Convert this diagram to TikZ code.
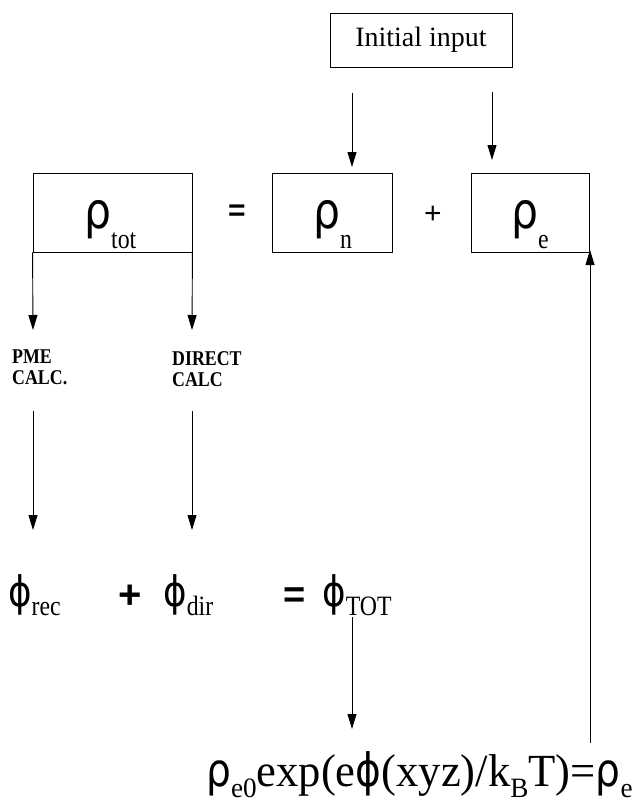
\documentclass[tikz,border=0pt]{standalone}
\usepackage{fontspec}
\setmainfont{Liberation Serif}
\newfontfamily\gr{DejaVu Sans}[FakeStretch=0.85]
\newfontfamily\nar{Liberation Serif}[FakeStretch=0.85]
\newfontfamily\frm{Liberation Serif}[FakeStretch=0.97]
\newfontfamily\sy{Liberation Sans}
\usetikzlibrary{arrows.meta}
\newcommand\fs[1]{\fontsize{#1}{#1}\selectfont}
\newcommand\lowsub[2]{\raisebox{-#1}{\nar\fs{28}#2}}
\begin{document}
\begin{tikzpicture}[x=1pt,y=-1pt,
  box/.style={draw,line width=0.9pt,inner sep=0pt},
  arr/.style={line width=0.9pt,-{Triangle[length=15pt,width=9pt]}},
  lbl/.style={inner sep=0pt,font=\nar\bfseries\fontsize{21}{21}\selectfont,align=left,anchor=base west},
  sym/.style={inner sep=0pt,anchor=base west},
  op/.style={inner sep=0pt,font=\sy\bfseries\fs{30}}]
\useasboundingbox (0,0) rectangle (640,806);
% top
\node[box,minimum width=182pt,minimum height=54pt,font=\fs{28}] (init) at (421,40) {Initial input};
\node[box,minimum width=159pt,minimum height=79pt] (rtot) at (112.5,212.5) {};
\node[box,minimum width=120pt,minimum height=79pt] (rn) at (332,212.5) {};
\node[box,minimum width=118pt,minimum height=79pt] (re) at (530,212.5) {};
\node[sym] (trtot) at (84,228) {{\gr\fs{50}ρ}\lowsub{20pt}{tot}};
\node[sym] (trn) at (313,228) {{\gr\fs{50}ρ}\lowsub{20pt}{n}};
\node[sym] (tre) at (511,228) {{\gr\fs{50}ρ}\lowsub{20pt}{e}};
\node[op] (eq1) at (237,213) {=};
\node[op,font=\sy\fs{30}] (pl1) at (433,215) {+};
% arrows from init
\coordinate (a1s) at (352,93);
\coordinate (a1e) at (352,167);
\coordinate (a2s) at (492,92);
\coordinate (a2e) at (492,160);
\draw[arr] (a1s) -- (a1e);
\draw[arr] (a2s) -- (a2e);
% branch arrows
\coordinate (b1) at (33,330);
\coordinate (b2) at (192,330);
\draw[arr] (rtot.south west) -- (b1);
\draw[arr] (rtot.south east) -- (b2);
\node[lbl] (pme) at (12,384) {PME\\CALC.};
\node[lbl] (dir) at (172,386) {DIRECT\\CALC};
\coordinate (c1s) at (33,411);
\coordinate (c1e) at (33,530);
\coordinate (c2s) at (192,411);
\coordinate (c2e) at (192,530);
\draw[arr] (c1s) -- (c1e);
\draw[arr] (c2s) -- (c2e);
% phi row
\node[sym] (prec) at (8,606) {{\gr\fs{42}ϕ}\lowsub{9pt}{rec}};
\node[op,font=\sy\bfseries\fs{40}] (pl2) at (130,597) {+};
\node[sym] (pdir) at (163,606) {{\gr\fs{42}ϕ}\lowsub{9pt}{dir}};
\node[op,font=\sy\bfseries\fs{38}] (eq2) at (295,598) {=};
\node[sym] (ptot) at (322,606) {{\gr\fs{42}ϕ}\lowsub{9pt}{TOT}};
\coordinate (d1s) at (352,617);
\coordinate (d1e) at (352,729);
\draw[arr] (d1s) -- (d1e);
% bottom formula
\node[sym,font=\frm\fs{46}] (form) at (206,786)
  {{\gr ρ}\raisebox{-11pt}{\frm\fs{28}e0}exp(e{\gr ϕ}(xyz)/k\raisebox{-11pt}{\frm\fs{28}B}T)={\gr ρ}\raisebox{-11pt}{\frm\fs{28}e}};
\coordinate (u1) at (590,743);
\coordinate (u2) at (590,250);
\draw[arr] (u1) -- (u2);
\end{tikzpicture}
\end{document}
